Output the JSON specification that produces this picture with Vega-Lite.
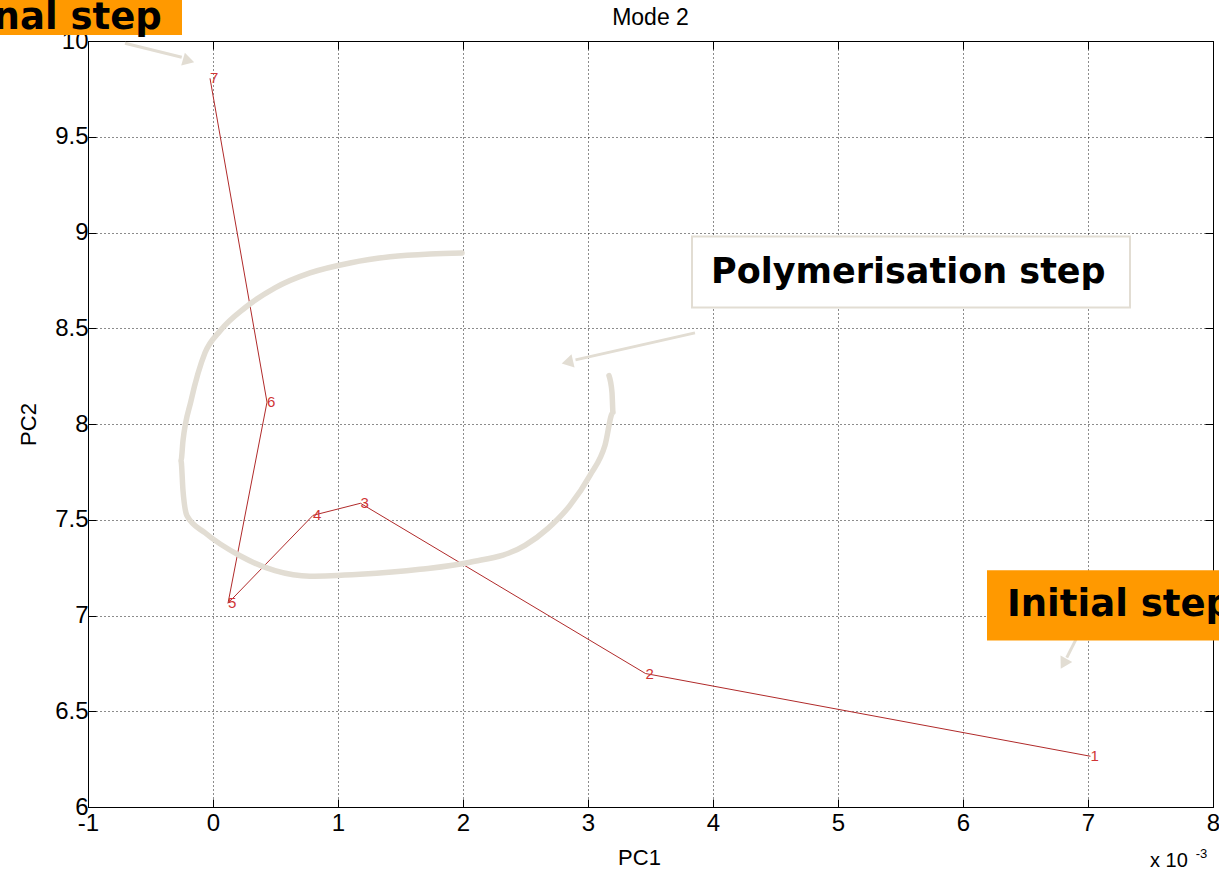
{
  "$schema": "https://vega.github.io/schema/vega-lite/v6.json",
  "width": 1125,
  "height": 766,
  "autosize": {"type": "none"},
  "padding": {"left": 88, "top": 41, "right": 6, "bottom": 66},
  "background": "white",
  "config": {
    "view": {"stroke": "black", "strokeWidth": 1},
    "font": "Liberation Sans",
    "axis": {
      "domainColor": "black", "tickColor": "black", "labelColor": "black", "titleColor": "black",
      "labelFont": "Liberation Sans", "titleFont": "Liberation Sans",
      "labelFontSize": 24, "titleFontSize": 22, "titleFontWeight": "normal",
      "gridColor": "black", "gridDash": [1, 3], "gridOpacity": 0.9, "gridWidth": 1,
      "tickSize": -8, "labelPadding": 14
    }
  },
  "datasets": {
    "steps": [
      {"step": 1, "label": "1", "pc1": 7.02, "pc2": 6.265},
      {"step": 2, "label": "2", "pc1": 3.46, "pc2": 6.697},
      {"step": 3, "label": "3", "pc1": 1.18, "pc2": 7.586},
      {"step": 4, "label": "4", "pc1": 0.8, "pc2": 7.523},
      {"step": 5, "label": "5", "pc1": 0.12, "pc2": 7.064},
      {"step": 6, "label": "6", "pc1": 0.432, "pc2": 8.114},
      {"step": 7, "label": "7", "pc1": -0.024, "pc2": 9.805}
    ],
    "curve": [
      {"i": 1, "x": 1.992, "y": 8.893},
      {"i": 2, "x": 1.736, "y": 8.888},
      {"i": 3, "x": 1.416, "y": 8.873},
      {"i": 4, "x": 1.096, "y": 8.841},
      {"i": 5, "x": 0.776, "y": 8.789},
      {"i": 6, "x": 0.496, "y": 8.711},
      {"i": 7, "x": 0.256, "y": 8.607},
      {"i": 8, "x": 0.056, "y": 8.486},
      {"i": 9, "x": -0.064, "y": 8.372},
      {"i": 10, "x": -0.176, "y": 8.121},
      {"i": 11, "x": -0.24, "y": 7.913},
      {"i": 12, "x": -0.256, "y": 7.808},
      {"i": 13, "x": -0.24, "y": 7.652},
      {"i": 14, "x": -0.208, "y": 7.521},
      {"i": 15, "x": -0.064, "y": 7.432},
      {"i": 16, "x": 0.216, "y": 7.312},
      {"i": 17, "x": 0.496, "y": 7.234},
      {"i": 18, "x": 0.776, "y": 7.205},
      {"i": 19, "x": 1.176, "y": 7.215},
      {"i": 20, "x": 1.656, "y": 7.241},
      {"i": 21, "x": 2.056, "y": 7.278},
      {"i": 22, "x": 2.496, "y": 7.366},
      {"i": 23, "x": 2.68, "y": 7.455},
      {"i": 24, "x": 2.856, "y": 7.575},
      {"i": 25, "x": 3.016, "y": 7.732},
      {"i": 26, "x": 3.136, "y": 7.889},
      {"i": 27, "x": 3.2, "y": 8.061},
      {"i": 28, "x": 3.192, "y": 8.165},
      {"i": 29, "x": 3.168, "y": 8.253}
    ],
    "shafts": [
      {"arrow": "final", "k": 1, "x": -0.704, "y": 9.988},
      {"arrow": "final", "k": 2, "x": -0.25, "y": 9.915},
      {"arrow": "poly", "k": 1, "x": 3.856, "y": 8.476},
      {"arrow": "poly", "k": 2, "x": 2.9, "y": 8.335},
      {"arrow": "initial", "k": 1, "x": 6.912, "y": 6.886},
      {"arrow": "initial", "k": 2, "x": 6.83, "y": 6.78}
    ],
    "heads": [
      {"arrow": "final", "x": -0.21, "y": 9.9},
      {"arrow": "poly", "x": 2.85, "y": 8.325},
      {"arrow": "initial", "x": 6.812, "y": 6.757}
    ],
    "boxes": [
      {"name": "Final step", "kind": "orange", "x1": -2.3, "x2": -0.248, "y1": 10.214, "y2": 10.031, "tx": -0.41, "ty": 10.12},
      {"name": "Polymerisation step", "kind": "white", "x1": 3.832, "x2": 7.336, "y1": 8.979, "y2": 8.608, "tx": 3.984, "ty": 8.794},
      {"name": "Initial step", "kind": "orange", "x1": 6.192, "x2": 8.3, "y1": 7.236, "y2": 6.87, "tx": 6.352, "ty": 7.053}
    ],
    "notes": [
      {"t": "Mode 2", "x": 3.5, "y": 10.082},
      {"t": "x 10", "x": 7.496, "y": 5.685},
      {"t": "-3", "x": 7.862, "y": 5.735}
    ]
  },
  "layer": [
    {
      "data": {"name": "steps"},
      "mark": {"type": "point", "opacity": 0},
      "encoding": {
        "x": {"field": "pc1", "type": "quantitative", "scale": {"domain": [-1, 8], "nice": false, "zero": false},
              "axis": {"values": [-1, 0, 1, 2, 3, 4, 5, 6, 7, 8], "labelExpr": "'' + datum.value", "labelFontSize": 24, "labelPadding": 12, "title": "PC1", "titleFontSize": 22, "titleX": 551, "titleY": 50, "titleBaseline": "middle", "grid": true, "labelFlush": false}},
        "y": {"field": "pc2", "type": "quantitative", "scale": {"domain": [6, 10], "nice": false, "zero": false},
              "axis": {"values": [6, 6.5, 7, 7.5, 8, 8.5, 9, 9.5, 10], "labelExpr": "'' + datum.value", "labelFontSize": 24, "title": "PC2", "titleFontSize": 22, "titleX": -60, "titleY": 383, "titleAngle": -90, "titleBaseline": "middle", "titleAlign": "center", "grid": true, "labelFlush": false, "labelPadding": 8}}
      }
    },
    {
      "data": {"name": "steps"},
      "mark": {"type": "point", "opacity": 0},
      "encoding": {
        "x": {"field": "pc1", "type": "quantitative", "axis": {"orient": "top", "values": [-1, 0, 1, 2, 3, 4, 5, 6, 7, 8], "labels": false, "domain": false, "grid": false, "title": null}},
        "y": {"field": "pc2", "type": "quantitative", "axis": {"orient": "right", "values": [6, 6.5, 7, 7.5, 8, 8.5, 9, 9.5, 10], "labels": false, "domain": false, "grid": false, "title": null}}
      }
    },
    {
      "data": {"name": "steps"},
      "mark": {"type": "line", "color": "#b02a2a", "strokeWidth": 1},
      "encoding": {
        "x": {"field": "pc1", "type": "quantitative", "axis": null},
        "y": {"field": "pc2", "type": "quantitative", "axis": null},
        "order": {"field": "step"}
      }
    },
    {
      "data": {"name": "steps"},
      "mark": {"type": "text", "color": "#d03535", "fontSize": 15, "align": "left", "baseline": "middle", "font": "Liberation Sans"},
      "encoding": {
        "x": {"field": "pc1", "type": "quantitative", "axis": null},
        "y": {"field": "pc2", "type": "quantitative", "axis": null},
        "text": {"field": "label"}
      }
    },
    {
      "data": {"name": "curve"},
      "mark": {"type": "line", "color": "#e2ddd3", "strokeWidth": 5.5, "strokeCap": "round", "strokeJoin": "round", "interpolate": "monotone"},
      "encoding": {
        "x": {"field": "x", "type": "quantitative", "axis": null},
        "y": {"field": "y", "type": "quantitative", "axis": null},
        "order": {"field": "i"}
      }
    },
    {
      "data": {"name": "shafts"},
      "mark": {"type": "line", "color": "#e2ddd3", "strokeWidth": 3},
      "encoding": {
        "x": {"field": "x", "type": "quantitative", "axis": null},
        "y": {"field": "y", "type": "quantitative", "axis": null},
        "detail": {"field": "arrow"},
        "order": {"field": "k"}
      }
    },
    {
      "data": {"name": "heads"},
      "transform": [{"filter": "datum.arrow == 'final'"}],
      "mark": {"type": "point", "shape": "triangle", "filled": true, "color": "#e2ddd3", "opacity": 1, "size": 180, "angle": 106},
      "encoding": {
        "x": {"field": "x", "type": "quantitative", "axis": null},
        "y": {"field": "y", "type": "quantitative", "axis": null}
      }
    },
    {
      "data": {"name": "heads"},
      "transform": [{"filter": "datum.arrow == 'poly'"}],
      "mark": {"type": "point", "shape": "triangle", "filled": true, "color": "#e2ddd3", "opacity": 1, "size": 180, "angle": 257},
      "encoding": {
        "x": {"field": "x", "type": "quantitative", "axis": null},
        "y": {"field": "y", "type": "quantitative", "axis": null}
      }
    },
    {
      "data": {"name": "heads"},
      "transform": [{"filter": "datum.arrow == 'initial'"}],
      "mark": {"type": "point", "shape": "triangle", "filled": true, "color": "#e2ddd3", "opacity": 1, "size": 180, "angle": 209},
      "encoding": {
        "x": {"field": "x", "type": "quantitative", "axis": null},
        "y": {"field": "y", "type": "quantitative", "axis": null}
      }
    },
    {
      "data": {"name": "boxes"},
      "transform": [{"filter": "datum.kind == 'orange'"}],
      "mark": {"type": "rect", "color": "#ff9900", "opacity": 1},
      "encoding": {
        "x": {"field": "x1", "type": "quantitative", "axis": null},
        "x2": {"field": "x2"},
        "y": {"field": "y1", "type": "quantitative", "axis": null},
        "y2": {"field": "y2"}
      }
    },
    {
      "data": {"name": "boxes"},
      "transform": [{"filter": "datum.kind == 'white'"}],
      "mark": {"type": "rect", "fill": "white", "stroke": "#e2ddd3", "strokeWidth": 2, "opacity": 1},
      "encoding": {
        "x": {"field": "x1", "type": "quantitative", "axis": null},
        "x2": {"field": "x2"},
        "y": {"field": "y1", "type": "quantitative", "axis": null},
        "y2": {"field": "y2"}
      }
    },
    {
      "data": {"name": "boxes"},
      "transform": [{"filter": "datum.name == 'Polymerisation step'"}],
      "mark": {"type": "text", "font": "DejaVu Sans", "fontWeight": "bold", "fontSize": 35, "color": "black", "align": "left", "baseline": "middle"},
      "encoding": {
        "x": {"field": "tx", "type": "quantitative", "axis": null},
        "y": {"field": "ty", "type": "quantitative", "axis": null},
        "text": {"field": "name"}
      }
    },
    {
      "data": {"name": "boxes"},
      "transform": [{"filter": "datum.name == 'Initial step'"}],
      "mark": {"type": "text", "font": "DejaVu Sans", "fontWeight": "bold", "fontSize": 37, "color": "black", "align": "left", "baseline": "middle"},
      "encoding": {
        "x": {"field": "tx", "type": "quantitative", "axis": null},
        "y": {"field": "ty", "type": "quantitative", "axis": null},
        "text": {"field": "name"}
      }
    },
    {
      "data": {"name": "boxes"},
      "transform": [{"filter": "datum.name == 'Final step'"}],
      "mark": {"type": "text", "font": "DejaVu Sans", "fontWeight": "bold", "fontSize": 37, "color": "black", "align": "right", "baseline": "middle"},
      "encoding": {
        "x": {"field": "tx", "type": "quantitative", "axis": null},
        "y": {"field": "ty", "type": "quantitative", "axis": null},
        "text": {"field": "name"}
      }
    },
    {
      "data": {"name": "notes"},
      "transform": [{"filter": "datum.t == 'Mode 2'"}],
      "mark": {"type": "text", "font": "Liberation Sans", "fontSize": 23, "color": "black", "align": "center", "baseline": "alphabetic"},
      "encoding": {
        "x": {"field": "x", "type": "quantitative", "axis": null},
        "y": {"field": "y", "type": "quantitative", "axis": null},
        "text": {"field": "t"}
      }
    },
    {
      "data": {"name": "notes"},
      "transform": [{"filter": "datum.t == 'x 10'"}],
      "mark": {"type": "text", "font": "Liberation Sans", "fontSize": 20, "color": "black", "align": "left", "baseline": "alphabetic"},
      "encoding": {
        "x": {"field": "x", "type": "quantitative", "axis": null},
        "y": {"field": "y", "type": "quantitative", "axis": null},
        "text": {"field": "t"}
      }
    },
    {
      "data": {"name": "notes"},
      "transform": [{"filter": "datum.t == '-3'"}],
      "mark": {"type": "text", "font": "Liberation Sans", "fontSize": 13, "color": "black", "align": "left", "baseline": "alphabetic"},
      "encoding": {
        "x": {"field": "x", "type": "quantitative", "axis": null},
        "y": {"field": "y", "type": "quantitative", "axis": null},
        "text": {"field": "t"}
      }
    }
  ],
  "resolve": {"axis": {"x": "independent", "y": "independent"}}
}
